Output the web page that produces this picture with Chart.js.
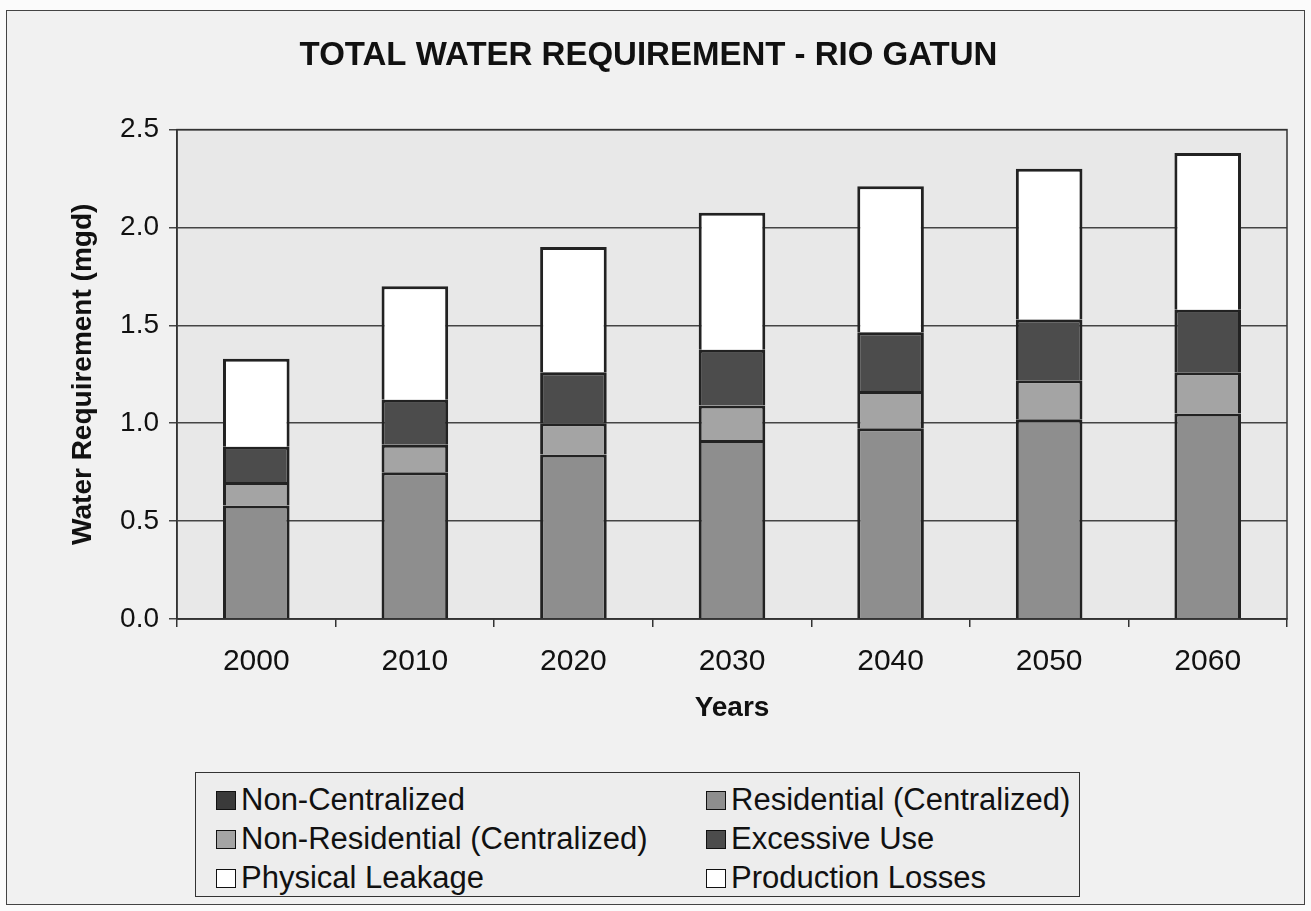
<!DOCTYPE html>
<html>
<head>
<meta charset="utf-8">
<script src="https://cdn.jsdelivr.net/npm/chart.js@4/dist/chart.umd.min.js"></script>
<style>
body { margin: 0; background: #fbfbfb; font-family: "Liberation Sans", Arial, sans-serif; }
#wrap { position: relative; width: 1311px; height: 911px; }
#frame { position: absolute; left: 6px; top: 10px; width: 1297px; height: 893px; border: 1.5px solid #444; background: #f1f1f1; }
canvas { position: absolute; left: 0; top: 0; }
#legend { position: absolute; left: 195px; top: 772px; width: 883px; height: 123px; border: 1.5px solid #333; background: #ededed; }
.item { position: absolute; font-size: 31px; color: #111; white-space: nowrap; line-height: 34px; }
.sw { display: inline-block; width: 18px; height: 17px; border: 1.5px solid #111; margin-right: 5px; vertical-align: 0px; }
</style>
</head>
<body>
<div id="wrap">
<div id="frame"></div>
<canvas id="chart" width="1311" height="911"></canvas>
<div id="legend"></div>
</div>
<script>
// Valeurs (mgd)
const years = ['2000', '2010', '2020', '2030', '2040', '2050', '2060'];
const nonCentralized = [0, 0, 0, 0, 0, 0, 0];
const residential = [0.58, 0.75, 0.84, 0.915, 0.975, 1.02, 1.05];
const nonResidential = [0.12, 0.14, 0.16, 0.175, 0.19, 0.20, 0.21];
const excessiveUse = [0.18, 0.23, 0.26, 0.285, 0.30, 0.31, 0.32];
const physicalLeakage = [0.45, 0.58, 0.64, 0.70, 0.745, 0.77, 0.80];
const productionLosses = [0, 0, 0, 0, 0, 0, 0];
const yTicks = [0, 0.5, 1.0, 1.5, 2.0, 2.5];

const series = [
  { label: 'Non-Centralized', data: nonCentralized, color: '#3a3a3a' },
  { label: 'Residential (Centralized)', data: residential, color: '#8e8e8e' },
  { label: 'Non-Residential (Centralized)', data: nonResidential, color: '#a4a4a4' },
  { label: 'Excessive Use', data: excessiveUse, color: '#4c4c4c' },
  { label: 'Physical Leakage', data: physicalLeakage, color: '#ffffff' },
  { label: 'Production Losses', data: productionLosses, color: '#ffffff' }
];

// legende en deux colonnes, comme l'original
const legendEl = document.getElementById('legend');
series.forEach((s, k) => {
  const div = document.createElement('div');
  div.className = 'item';
  div.style.left = (k % 2 === 0 ? 20 : 510) + 'px';
  div.style.top = (10 + Math.floor(k / 2) * 39) + 'px';
  div.innerHTML = '<span class="sw" style="background:' + s.color + '"></span>' + s.label;
  legendEl.appendChild(div);
});

const plotBg = {
  id: 'plotBg',
  beforeDraw(c) {
    const a = c.chartArea, ctx = c.ctx;
    ctx.save();
    ctx.fillStyle = '#e8e8e8';
    ctx.fillRect(a.left, a.top, a.right - a.left, a.bottom - a.top);
    ctx.restore();
  },
  afterDatasetsDraw(c) {
    const a = c.chartArea, ctx = c.ctx;
    ctx.save();
    ctx.strokeStyle = '#333';
    ctx.lineWidth = 1.5;
    ctx.strokeRect(a.left, a.top, a.right - a.left, a.bottom - a.top);
    ctx.restore();
  }
};

new Chart(document.getElementById('chart').getContext('2d'), {
  type: 'bar',
  data: {
    labels: years,
    datasets: series.map(s => ({
      label: s.label,
      data: s.data,
      backgroundColor: s.color,
      borderColor: '#222',
      borderWidth: { top: 3, left: 3, right: 3, bottom: 0 },
      borderSkipped: false,
      inflateAmount: 0,
      categoryPercentage: 1,
      barPercentage: 0.42
    }))
  },
  options: {
    responsive: false,
    animation: false,
    layout: { padding: { left: 10, right: 24, top: 36, bottom: 186 } },
    plugins: {
      legend: { display: false },
      tooltip: { enabled: false },
      title: {
        display: true,
        text: 'TOTAL WATER REQUIREMENT - RIO GATUN',
        color: '#111',
        font: { family: 'Liberation Sans', size: 33, weight: 'bold' },
        padding: { top: 0, bottom: 54 }
      }
    },
    scales: {
      x: {
        stacked: true,
        afterFit: s => { s.height = 106; },
        grid: { display: true, offset: true, drawOnChartArea: false, color: '#333', lineWidth: 1.5, tickLength: 8 },
        border: { color: '#333', width: 1.5 },
        ticks: { color: '#111', font: { family: 'Liberation Sans', size: 30 }, padding: 17 },
        title: { display: true, text: 'Years', color: '#111', font: { family: 'Liberation Sans', size: 28, weight: 'bold' }, padding: 0 }
      },
      y: {
        stacked: true,
        min: 0,
        max: 2.5,
        afterFit: s => { s.width = 167; },
        afterBuildTicks: s => { s.ticks = yTicks.map(v => ({ value: v })); },
        grid: { color: '#444', lineWidth: 1.5, tickLength: 8 },
        border: { color: '#333', width: 1.5 },
        ticks: { color: '#111', font: { family: 'Liberation Sans', size: 28 }, padding: 10, callback: v => v.toFixed(1) },
        title: { display: true, text: 'Water Requirement (mgd)', color: '#111', font: { family: 'Liberation Sans', size: 28, weight: 'bold' }, padding: { top: 56, bottom: 0 } }
      }
    }
  },
  plugins: [plotBg]
});
</script>
</body>
</html>
